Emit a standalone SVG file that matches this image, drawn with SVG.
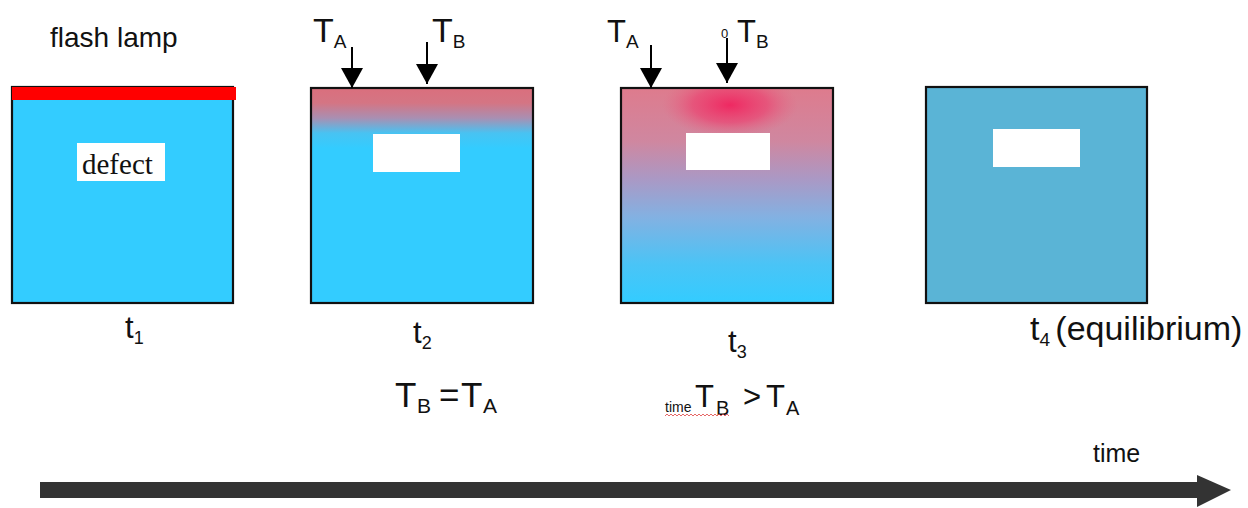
<svg xmlns="http://www.w3.org/2000/svg" width="1248" height="508" viewBox="0 0 1248 508">
  <style>
    .box { stroke: #111; stroke-width: 2.2; }
    .hole { fill: #ffffff; }
    .sans { font-family: "Liberation Sans", Arial, sans-serif; fill: #111; }
    .serif { font-family: "Liberation Serif", "Times New Roman", serif; fill: #111; }
    .probe { stroke: #000; stroke-width: 2; fill: none; marker-end: url(#head); }
  </style>
  <defs>
    <marker id="head" viewBox="0 0 20 22" refX="20" refY="11" markerWidth="20" markerHeight="22" markerUnits="userSpaceOnUse" orient="auto">
      <path d="M0,0 L20,11 L0,22 z" fill="#000"/>
    </marker>
    <linearGradient id="g2" x1="0" y1="0" x2="0" y2="1">
      <stop offset="0" stop-color="#da6f7d"/>
      <stop offset="0.07" stop-color="#d47584"/>
      <stop offset="0.14" stop-color="#a98fb2"/>
      <stop offset="0.21" stop-color="#48c3f2"/>
      <stop offset="0.28" stop-color="#33ccff"/>
      <stop offset="1" stop-color="#33ccff"/>
    </linearGradient>
    <linearGradient id="g3" x1="0" y1="0" x2="0" y2="1">
      <stop offset="0" stop-color="#de7b8d"/>
      <stop offset="0.25" stop-color="#cf87a0"/>
      <stop offset="0.42" stop-color="#ab98c4"/>
      <stop offset="0.6" stop-color="#83b1e2"/>
      <stop offset="0.82" stop-color="#4ac4f6"/>
      <stop offset="1" stop-color="#33ccff"/>
    </linearGradient>
    <radialGradient id="hot" cx="0.5" cy="0.25" r="0.5">
      <stop offset="0" stop-color="#f0245f" stop-opacity="0.95"/>
      <stop offset="0.55" stop-color="#ee3a6c" stop-opacity="0.6"/>
      <stop offset="1" stop-color="#e8607f" stop-opacity="0"/>
    </radialGradient>
  </defs>

  <rect x="0" y="0" width="1248" height="508" fill="#ffffff"/>

  <g id="node-t1">
    <text class="sans" x="50" y="47" font-size="28">flash lamp</text>
    <rect class="box" x="12" y="87" width="221" height="216" fill="#33ccff"/>
    <rect x="12" y="87" width="224" height="13" fill="#ff0000"/>
    <rect class="hole" x="77" y="143" width="88" height="38"/>
    <text class="serif" x="82" y="174" font-size="29">defect</text>
    <text class="sans" x="125" y="338" font-size="31">t<tspan font-size="18" dy="6">1</tspan></text>
  </g>

  <g id="node-t2">
    <rect class="box" x="311" y="88" width="222" height="215" fill="url(#g2)"/>
    <rect class="hole" x="373" y="134" width="87" height="38"/>
    <text class="sans" x="313" y="42" font-size="34">T<tspan font-size="19" dy="6">A</tspan></text>
    <text class="sans" x="432" y="42" font-size="34">T<tspan font-size="19" dy="6">B</tspan></text>
    <text class="sans" x="413" y="343" font-size="31">t<tspan font-size="18" dy="6">2</tspan></text>
    <text class="sans" font-size="35"><tspan x="395" y="407">T</tspan><tspan x="417" y="413" font-size="21">B</tspan><tspan x="439" y="407">=</tspan><tspan x="461" y="407">T</tspan><tspan x="483" y="413" font-size="21">A</tspan></text>
  </g>

  <g id="node-t3">
    <rect class="box" x="621" y="88" width="212" height="215" fill="url(#g3)"/>
    <rect x="662" y="89" width="136" height="64" fill="url(#hot)"/>
    <rect class="hole" x="686" y="133" width="84" height="37"/>
    <text class="sans" x="607" y="42" font-size="31">T<tspan font-size="19" dy="6">A</tspan></text>
    <text class="sans" x="721" y="38" font-size="13">0</text>
    <text class="sans" x="737" y="42" font-size="31">T<tspan font-size="19" dy="6">B</tspan></text>
    <text class="sans" x="728" y="352" font-size="31">t<tspan font-size="18" dy="6">3</tspan></text>
    <text class="sans" font-size="31"><tspan x="665" y="412" font-size="14">time</tspan><tspan x="695" y="407">T</tspan><tspan x="716" y="415" font-size="20">B</tspan><tspan x="743" y="407">&gt;</tspan><tspan x="766" y="407">T</tspan><tspan x="786" y="415" font-size="20">A</tspan></text>
    <path d="M665,416 l2,-2 l2,2 l2,-2 l2,2 l2,-2 l2,2 l2,-2 l2,2 l2,-2 l2,2 l2,-2 l2,2 l2,-2 l2,2 l2,-2 l2,2 l2,-2 l2,2 l2,-2 l2,2 l2,-2 l2,2 l2,-2 l2,2 l2,-2 l2,2 l2,-2 l2,2 l2,-2 l2,2 l2,-2 l2,2" fill="none" stroke="#e04040" stroke-width="0.8"/>
  </g>

  <g id="node-t4">
    <rect class="box" x="926" y="87" width="221" height="216" fill="#5ab4d6"/>
    <rect class="hole" x="993" y="129" width="87" height="38"/>
    <text class="sans" x="1030" y="340" font-size="34">t<tspan font-size="19" dy="6">4 </tspan><tspan dy="-6">(equilibrium)</tspan></text>
  </g>

  <g id="connectors">
    <path class="probe" d="M352,47 L352,88"/>
    <path class="probe" d="M427,42 L427,84"/>
    <path class="probe" d="M651,45 L651,88"/>
    <path class="probe" d="M727,38 L727,83"/>
    <rect x="40" y="482" width="1160" height="16" fill="#333333"/>
    <polygon points="1197,475 1231,490 1197,507" fill="#333333"/>
  </g>

  <g id="axis-label">
    <text class="sans" x="1093" y="462" font-size="25">time</text>
  </g>
</svg>
